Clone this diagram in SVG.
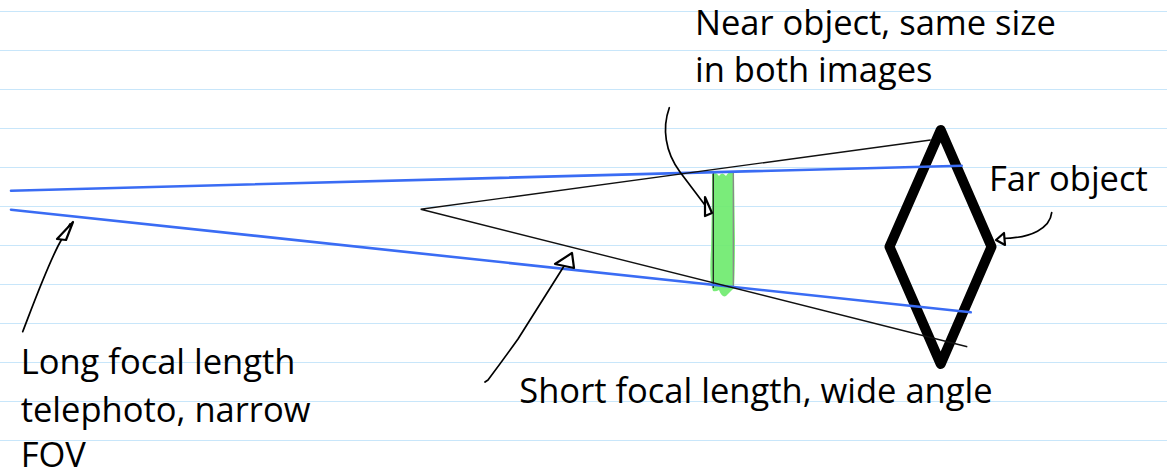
<svg xmlns="http://www.w3.org/2000/svg" width="1167" height="475" viewBox="0 0 1167 475">
<style>
.rule{stroke:#c8e6fa;stroke-width:1.2}
.ray{stroke:#3a6cf4;stroke-width:2.6;fill:none;stroke-linecap:round}
.thin{stroke:#111;stroke-width:1.4;fill:none}
.pen{stroke:#000;stroke-width:1.7;fill:none;stroke-linecap:round;stroke-linejoin:round}
.head{stroke:#000;stroke-width:2.2;fill:#fff;stroke-linejoin:round}
.lbl{font-family:"Open Sans","Noto Sans",sans-serif;font-size:34.5px;fill:#000}
</style>
<rect width="1167" height="475" fill="#fff"/>
<g id="paper">
<line class="rule" x1="0" y1="11.5" x2="1167" y2="11.5"/>
<line class="rule" x1="0" y1="50.5" x2="1167" y2="50.5"/>
<line class="rule" x1="0" y1="89.5" x2="1167" y2="89.5"/>
<line class="rule" x1="0" y1="128.5" x2="1167" y2="128.5"/>
<line class="rule" x1="0" y1="167.5" x2="1167" y2="167.5"/>
<line class="rule" x1="0" y1="206.5" x2="1167" y2="206.5"/>
<line class="rule" x1="0" y1="245.5" x2="1167" y2="245.5"/>
<line class="rule" x1="0" y1="284.5" x2="1167" y2="284.5"/>
<line class="rule" x1="0" y1="323.5" x2="1167" y2="323.5"/>
<line class="rule" x1="0" y1="362.5" x2="1167" y2="362.5"/>
<line class="rule" x1="0" y1="401.5" x2="1167" y2="401.5"/>
<line class="rule" x1="0" y1="440.5" x2="1167" y2="440.5"/>
</g>
<g id="near-object">
<path d="M712,174 Q716,171 719,176 Q722,171 726,176 Q729,171 734,172 L735,240 Q735,270 734,288 Q730,292 726,296 Q722,298 719,290 Q716,292 713,291 Q709,280 711,250 L712,200 Z" fill="#6fea6f" fill-opacity="0.92"/>
<line x1="713.3" y1="172" x2="713.3" y2="288" stroke="#222" stroke-width="1.3"/>
<line x1="733.3" y1="172" x2="733.3" y2="288" stroke="#888" stroke-width="1.3"/>
<line x1="713.3" y1="172" x2="733.3" y2="172" stroke="#888" stroke-width="1"/>
</g>
<g id="far-object">
<polygon points="940.7,130 889.5,246.7 940.7,364 991.5,246.7" fill="none" stroke="#000" stroke-width="10" stroke-linejoin="round"/>
</g>
<g id="connectors">
<line class="ray" x1="11" y1="190.7" x2="961.7" y2="165.7"/>
<line class="ray" x1="11" y1="209.7" x2="970.7" y2="312.3"/>
<polyline class="thin" points="930.7,140 420.7,209.3 967.3,346.7"/>
<path class="pen" d="M22.7,331.7 C33,305 45,272 58,246 L70,224"/>
<path class="head" d="M57,239 L73,222 L66,240 Z"/>
<path class="pen" d="M485,382 L488,380 Q503,360 518,339 L571,255"/>
<path class="head" d="M555,264 L572,253 L574,268 Z"/>
<path class="pen" d="M669.3,107.7 C662,128 665,152 680,172 C692,188 700,198 710,212"/>
<path class="head" d="M705,197 L712,213 L705,216 Z"/>
<path class="pen" d="M1051.7,212.7 C1050,228 1032,238 1002,238.5"/>
<path class="head" d="M996,240 L1004,233 L1005,245 Z"/>
</g>
<g id="label-near">
<text class="lbl" x="695" y="35">Near object, same size</text>
<text class="lbl" x="695" y="81.7">in both images</text>
</g>
<g id="label-far">
<text class="lbl" x="989" y="190.7">Far object</text>
</g>
<g id="label-long">
<text class="lbl" x="20.7" y="374">Long focal length</text>
<text class="lbl" x="20.7" y="421.7">telephoto, narrow</text>
<text class="lbl" x="20.7" y="467">FOV</text>
</g>
<g id="label-short">
<text class="lbl" x="519.3" y="403.3">Short focal length, wide angle</text>
</g>
</svg>
